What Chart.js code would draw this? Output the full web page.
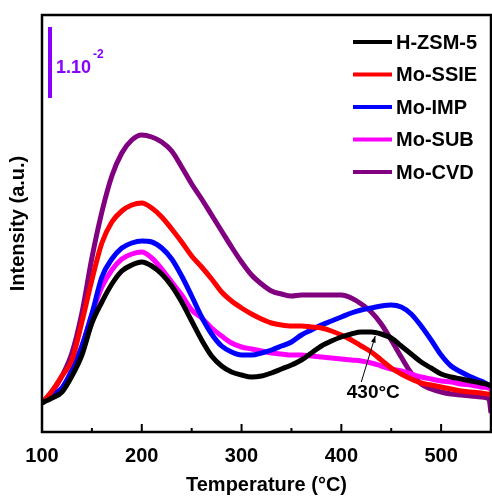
<!DOCTYPE html>
<html>
<head>
<meta charset="utf-8">
<script src="https://cdn.jsdelivr.net/npm/chart.js@4.4.0/dist/chart.umd.min.js"></script>
<style>
  html, body { margin: 0; padding: 0; background: #fff; }
  #wrap { width: 492px; height: 497px; }
</style>
</head>
<body>
<div id="wrap"><canvas id="myChart" width="492" height="497"></canvas></div>
<script>
// data block
const temps = [100, 110, 120, 130, 140, 150, 160, 170, 180, 190, 200, 210, 220, 230, 240, 250, 260, 270, 280, 290, 300,
    310, 320, 330, 340, 350, 360, 370, 380, 390, 400, 410, 420, 430, 440, 450, 460, 470, 480, 490, 500,
    510, 520, 530, 540, 548, 550]
const hzsm5 = [29, 34, 40, 56, 77, 109, 130, 148, 161, 167, 170, 166, 158, 146, 130, 111, 92, 76, 66, 60, 57,
    55, 56, 59, 63, 67, 72, 79, 86, 91, 95, 98, 100, 100, 98, 94, 86, 78, 70, 64, 58,
    55, 53, 51, 49, 47, 46]
const moSSIE = [29, 41, 56, 72, 110, 152, 189, 210, 221, 227, 229, 224, 215, 203, 190, 176, 165, 153, 140, 131, 124,
    118, 113, 109, 107, 106, 106, 105, 104, 101, 97, 92, 86, 80, 72, 64, 58, 53, 49, 47, 45,
    43, 41, 40, 39, 38, 38]
const moIMP = [29, 37, 44, 62, 86, 118, 155, 173, 184, 189, 191, 190, 184, 173, 156, 136, 115, 98, 86, 80, 77,
    77, 79, 82, 86, 90, 97, 102, 107, 111, 115, 119, 122, 124, 126, 127, 125, 118, 106, 92, 77,
    66, 60, 55, 51, 47, 46]
const moSUB = [29, 37, 44, 62, 86, 118, 145, 162, 173, 178, 180, 174, 163, 150, 137, 122, 114, 104, 96, 89, 85,
    83, 81, 79, 78, 77, 77, 76, 75, 74, 73, 72, 71, 69, 66, 63, 61, 58, 55, 53, 51,
    50, 48, 47, 45, 44, 43]
const moCVD = [29, 40, 56, 79, 119, 174, 220, 256, 279, 292, 297, 295, 290, 281, 265, 248, 233, 217, 201, 185, 170,
    157, 148, 141, 138, 136, 137, 137, 137, 137, 137, 134, 128, 120, 108, 92, 75, 59, 48, 43, 40,
    38, 37, 36, 35, 33, 19]
const xTicks = [100, 200, 300, 400, 500]
const xMinor = [150, 250, 350, 450]

const font = 'Liberation Sans, Arial, sans-serif'

function series(label, values, color) {
    return {
        label: label,
        data: temps.map((t, i) => ({ x: t, y: values[i] })),
        borderColor: color,
        backgroundColor: color,
        borderWidth: 5,
        pointRadius: 0,
        cubicInterpolationMode: 'monotone',
        fill: false
    }
}

const data = {
    datasets: [
        series('H-ZSM-5', hzsm5, '#000000'),
        series('Mo-SSIE', moSSIE, '#ff0000'),
        series('Mo-IMP', moIMP, '#0000ff'),
        series('Mo-SUB', moSUB, '#ff00ff'),
        series('Mo-CVD', moCVD, '#800080')
    ]
}

// frame, ticks, legend, scale bar, annotation
const extras = {
    id: 'extras',
    afterDraw(chart) {
        const ctx = chart.ctx
        const a = chart.chartArea
        const xs = chart.scales.x
        const ys = chart.scales.y
        ctx.save()

        // tick marks pointing in
        ctx.strokeStyle = '#000'
        ctx.lineWidth = 2
        xTicks.concat(xMinor).forEach(v => {
            const px = xs.getPixelForValue(v)
            const len = xTicks.includes(v) ? 8 : 4
            ctx.beginPath()
            ctx.moveTo(px, a.bottom)
            ctx.lineTo(px, a.bottom - len)
            ctx.stroke()
        })

        // frame
        ctx.lineWidth = 2.5
        ctx.strokeRect(a.left, a.top, a.right - a.left, a.bottom - a.top)

        // legend
        ctx.font = 'bold 20px ' + font
        ctx.textBaseline = 'middle'
        ctx.textAlign = 'left'
        chart.data.datasets.forEach((ds, i) => {
            const y = a.top + 27 + i * 32.5
            ctx.strokeStyle = ds.borderColor
            ctx.lineWidth = 4
            ctx.beginPath()
            ctx.moveTo(353, y)
            ctx.lineTo(392, y)
            ctx.stroke()
            ctx.fillStyle = '#000'
            ctx.fillText(ds.label, 396, y + 1)
        })

        // scale bar
        ctx.strokeStyle = '#8800ff'
        ctx.fillStyle = '#8800ff'
        ctx.lineWidth = 4
        ctx.beginPath()
        ctx.moveTo(50, 27)
        ctx.lineTo(50, 98)
        ctx.stroke()
        ctx.textBaseline = 'alphabetic'
        ctx.font = 'bold 18px ' + font
        ctx.fillText('1.10', 56, 73)
        const w = ctx.measureText('1.10').width
        ctx.font = 'bold 12px ' + font
        ctx.fillText('-2', 56 + w + 2, 58)

        // 430 annotation
        const x0 = xs.getPixelForValue(420), y0 = ys.getPixelForValue(50)
        const x1 = xs.getPixelForValue(434), y1 = ys.getPixelForValue(96)
        ctx.strokeStyle = '#000'
        ctx.fillStyle = '#000'
        ctx.lineWidth = 1
        ctx.beginPath()
        ctx.moveTo(x0, y0)
        ctx.lineTo(x1, y1)
        ctx.stroke()
        const ang = Math.atan2(y1 - y0, x1 - x0)
        ctx.beginPath()
        ctx.moveTo(x1, y1)
        ctx.lineTo(x1 - 7 * Math.cos(ang - 0.35), y1 - 7 * Math.sin(ang - 0.35))
        ctx.lineTo(x1 - 7 * Math.cos(ang + 0.35), y1 - 7 * Math.sin(ang + 0.35))
        ctx.closePath()
        ctx.fill()
        ctx.font = 'bold 19px ' + font
        ctx.textAlign = 'center'
        ctx.textBaseline = 'middle'
        ctx.fillText('430°C', xs.getPixelForValue(432), ys.getPixelForValue(39))

        ctx.restore()
    }
}

const config = {
    type: 'line',
    data,
    options: {
        responsive: false,
        animation: false,
        layout: { padding: { top: 15, right: 1, left: 0, bottom: 0 } },
        scales: {
            x: {
                type: 'linear',
                min: 100,
                max: 550,
                afterBuildTicks: s => { s.ticks = xTicks.map(v => ({ value: v })) },
                afterFit: s => { s.height = 65 },
                grid: { display: false, drawTicks: false },
                border: { display: false },
                ticks: {
                    padding: 12,
                    color: '#000',
                    font: { family: font, size: 20, weight: 'bold' }
                },
                title: {
                    display: true,
                    text: 'Temperature (°C)',
                    color: '#000',
                    padding: 0,
                    font: { family: font, size: 20, weight: 'bold' }
                }
            },
            y: {
                min: 0,
                max: 417,
                afterFit: s => { s.width = 42 },
                grid: { display: false, drawTicks: false },
                border: { display: false },
                ticks: { display: false },
                title: {
                    display: true,
                    text: 'Intensity (a.u.)',
                    color: '#000',
                    padding: { top: 6, bottom: 0 },
                    font: { family: font, size: 20, weight: 'bold' }
                }
            }
        },
        plugins: {
            legend: { display: false },
            tooltip: { enabled: false }
        }
    },
    plugins: [extras]
}

// render block
const myChart = new Chart(document.getElementById('myChart'), config)
</script>
</body>
</html>
